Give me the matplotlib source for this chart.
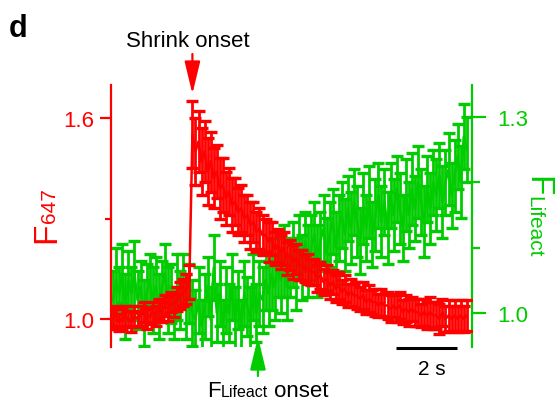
import matplotlib
matplotlib.use('Agg')
import matplotlib.pyplot as plt

plt.rcParams['font.family'] = ['Liberation Sans', 'DejaVu Sans']

RED = '#ff0000'
GREEN = '#00cc00'

# time axis: 0.1 s steps, 0 .. 11.6 s
time_s = [round(i * 0.1, 1) for i in range(117)]

# F647 (left axis)
f647 = [1.00, 1.01, 0.99, 1.00, 1.01, 1.00, 0.99, 1.01, 1.00, 1.01,
        1.02, 1.00, 1.01, 1.02, 1.01, 1.03, 1.02, 1.04, 1.03, 1.05,
        1.04, 1.06, 1.07, 1.08, 1.09, 1.11,
        1.55, 1.50, 1.53, 1.47, 1.50, 1.44, 1.47, 1.42, 1.44, 1.39,
        1.40, 1.36, 1.38, 1.34, 1.35, 1.32, 1.33, 1.30, 1.31, 1.28,
        1.29, 1.26, 1.27, 1.25, 1.25, 1.23, 1.24, 1.21, 1.22, 1.20,
        1.21, 1.18, 1.19, 1.17, 1.18, 1.16, 1.16, 1.15, 1.15, 1.14,
        1.14, 1.12, 1.13, 1.11, 1.12, 1.10, 1.11, 1.09, 1.10, 1.08,
        1.09, 1.07, 1.08, 1.07, 1.07, 1.06, 1.07, 1.05, 1.06, 1.05,
        1.05, 1.04, 1.05, 1.04, 1.04, 1.03, 1.04, 1.03, 1.04, 1.02,
        1.03, 1.02, 1.03, 1.02, 1.02, 1.01, 1.02, 1.01, 1.02, 1.01,
        1.01, 1.00, 1.02, 1.00, 1.01, 1.00, 1.01, 1.00, 1.01, 1.00, 1.01]
f647_err = [0.03, 0.03, 0.025, 0.03, 0.03, 0.025, 0.03, 0.03, 0.025, 0.03,
            0.03, 0.03, 0.025, 0.03, 0.03, 0.03, 0.03, 0.03, 0.035, 0.03,
            0.035, 0.035, 0.04, 0.04, 0.045, 0.05,
            0.10, 0.10, 0.09, 0.10, 0.09, 0.10, 0.09, 0.09, 0.08, 0.09,
            0.08, 0.08, 0.07, 0.08, 0.07, 0.07, 0.07, 0.07, 0.06, 0.07,
            0.06, 0.06, 0.06, 0.06, 0.05, 0.06, 0.05, 0.05, 0.05, 0.05,
            0.05, 0.05, 0.045, 0.05, 0.045, 0.045, 0.045, 0.04, 0.045, 0.04,
            0.04, 0.04, 0.04, 0.04, 0.04, 0.04, 0.035, 0.04, 0.04, 0.035,
            0.04, 0.035, 0.04, 0.035, 0.04, 0.035, 0.04, 0.035, 0.04, 0.035,
            0.04, 0.035, 0.04, 0.035, 0.04, 0.04, 0.035, 0.04, 0.04, 0.035,
            0.04, 0.04, 0.035, 0.04, 0.04, 0.035, 0.04, 0.04, 0.045, 0.04,
            0.04, 0.045, 0.04, 0.04, 0.045, 0.04, 0.045, 0.04, 0.045, 0.04, 0.045]

# F Lifeact (right axis)
flifeact = [1.02, 1.05, 1.03, 1.06, 1.01, 1.05, 1.03, 1.06, 1.02, 1.04,
            1.00, 1.03, 1.05, 1.02, 1.04, 1.01, 1.04, 1.06, 1.02, 1.03,
            1.00, 1.04, 1.02, 1.05, 1.01, 1.03,
            1.00, 0.99, 1.02, 0.98, 1.01, 1.04, 0.99, 1.07, 1.00, 1.03,
            0.98, 1.02, 1.00, 1.04, 0.99, 1.02, 0.98, 1.03, 1.01, 0.99,
            1.04, 1.00, 1.03,
            1.02, 1.05, 1.03, 1.06, 1.04, 1.07, 1.05, 1.08, 1.04, 1.07,
            1.09, 1.06, 1.10, 1.07, 1.11, 1.08, 1.10, 1.12, 1.08, 1.11,
            1.13, 1.09, 1.12, 1.14, 1.10, 1.13, 1.15,
            1.12, 1.16, 1.13, 1.17, 1.14, 1.11, 1.16, 1.13, 1.17, 1.12,
            1.15, 1.18, 1.14, 1.17, 1.13, 1.18, 1.15, 1.19, 1.16, 1.13,
            1.18, 1.15, 1.19, 1.16, 1.20, 1.17, 1.14, 1.19, 1.16, 1.20,
            1.18, 1.21, 1.17, 1.20, 1.22, 1.18, 1.21, 1.24, 1.20, 1.27, 1.25]
flifeact_err = [0.045, 0.05, 0.04, 0.045, 0.05, 0.045, 0.04, 0.05, 0.045, 0.04,
                0.05, 0.045, 0.04, 0.05, 0.045, 0.05, 0.04, 0.045, 0.05, 0.045,
                0.04, 0.05, 0.045, 0.04, 0.05, 0.045,
                0.05, 0.045, 0.05, 0.04, 0.05, 0.045, 0.05, 0.05, 0.045, 0.05,
                0.04, 0.05, 0.045, 0.05, 0.05, 0.045, 0.04, 0.05, 0.045, 0.05,
                0.05, 0.045, 0.05,
                0.05, 0.045, 0.05, 0.055, 0.05, 0.045, 0.05, 0.055, 0.05, 0.045,
                0.05, 0.055, 0.05, 0.05, 0.045, 0.055, 0.05, 0.05, 0.055, 0.045,
                0.05, 0.055, 0.05, 0.05, 0.055, 0.05, 0.05,
                0.055, 0.05, 0.055, 0.05, 0.055, 0.05, 0.055, 0.05, 0.055, 0.05,
                0.055, 0.05, 0.055, 0.05, 0.055, 0.05, 0.055, 0.05, 0.055, 0.05,
                0.055, 0.05, 0.055, 0.05, 0.055, 0.05, 0.055, 0.05, 0.055, 0.05,
                0.055, 0.05, 0.055, 0.05, 0.055, 0.05, 0.055, 0.05, 0.055, 0.05, 0.05]

shrink_onset = 2.6
lifeact_onset = 4.75

W, H = 557, 402
fig = plt.figure(figsize=(W / 100, H / 100), dpi=100)
ax = fig.add_axes([111 / W, 1 - 348 / H, (472 - 111) / W, (348 - 86) / H])
ax2 = ax.twinx()
ax.set_zorder(ax2.get_zorder() + 1)
ax.patch.set_visible(False)

eb = dict(capsize=4, elinewidth=2.0, capthick=2.4, lw=1.8)
ax2.errorbar(time_s, flifeact, yerr=flifeact_err, color=GREEN, ecolor=GREEN, **eb)
ax.errorbar(time_s, f647, yerr=f647_err, color=RED, ecolor=RED, **eb)

ax.set_xlim(-0.07, 11.77)
ax.set_ylim(0.916, 1.699)
ax2.set_ylim(0.948, 1.349)

for a in (ax, ax2):
    for s in ('top', 'bottom'):
        a.spines[s].set_visible(False)
    a.set_xticks([])
ax.spines['right'].set_visible(False)
ax2.spines['left'].set_visible(False)
ax.spines['left'].set_color(RED)
ax.spines['left'].set_linewidth(1.6)
ax2.spines['right'].set_color(GREEN)
ax2.spines['right'].set_linewidth(1.6)

ax.set_yticks([1.0, 1.6])
ax.set_yticklabels(['1.0', '1.6'])
ax.set_yticks([1.3], minor=True)
ax.tick_params(axis='y', which='major', colors=RED, labelsize=16, length=8, width=1.6, pad=4)
ax.tick_params(axis='y', which='minor', colors=RED, length=4, width=1.6)

ax2.set_yticks([1.0, 1.3])
ax2.set_yticklabels(['1.0', '1.3'])
ax2.set_yticks([1.1, 1.2], minor=True)
ax2.tick_params(axis='y', which='major', colors=GREEN, labelsize=16, length=10, width=1.6, pad=8)
ax2.tick_params(axis='y', which='minor', colors=GREEN, length=6, width=1.6)

# y labels with same-baseline smaller "subscript"
def fp(x, y):
    return (x / W, 1 - y / H)

fig.text(*fp(55, 243), 'F', color=RED, fontsize=24, rotation=90,
         rotation_mode='anchor', ha='left', va='baseline')
fig.text(*fp(55, 223), '647', color=RED, fontsize=15, rotation=90,
         rotation_mode='anchor', ha='left', va='baseline')
fig.text(*fp(528, 176), 'F', color=GREEN, fontsize=24, rotation=-90,
         rotation_mode='anchor', ha='left', va='baseline')
fig.text(*fp(528, 196), 'Lifeact', color=GREEN, fontsize=15, rotation=-90,
         rotation_mode='anchor', ha='left', va='baseline')

# panel letter and annotations
fig.text(*fp(9, 37), 'd', fontsize=22, fontweight='bold', va='baseline')
fig.text(*fp(188, 47), 'Shrink onset', fontsize=16, ha='center', va='baseline')

arrow = '-|>,head_length=20,head_width=4.8'
ax.annotate('', xy=(shrink_onset, 402 - 95), xytext=(shrink_onset, 402 - 55),
            xycoords=('data', 'figure pixels'), textcoords=('data', 'figure pixels'),
            arrowprops=dict(arrowstyle=arrow, color=RED, lw=1.6, mutation_scale=1,
                            shrinkA=0, shrinkB=0), annotation_clip=False)
ax.annotate('', xy=(lifeact_onset, 402 - 338), xytext=(lifeact_onset, 402 - 377),
            xycoords=('data', 'figure pixels'), textcoords=('data', 'figure pixels'),
            arrowprops=dict(arrowstyle=arrow, color=GREEN, lw=1.6, mutation_scale=1,
                            shrinkA=0, shrinkB=0), annotation_clip=False)

# "F Lifeact onset" text with small Lifeact on same baseline
renderer = fig.canvas.get_renderer()
x0 = 207
parts = [('F', 16), ('Lifeact', 11.5), (' onset', 16)]
for txt, size in parts:
    t = fig.text(*fp(x0, 397), txt, fontsize=size, va='baseline', ha='left')
    bb = t.get_window_extent(renderer)
    x0 += bb.width

# scale bar 2 s
ax.plot([9.28, 11.28], [0.913, 0.913], color='black', lw=2.2, clip_on=False,
        solid_capstyle='butt')
fig.text(*fp(432, 375), '2 s', fontsize=15, ha='center', va='baseline')

fig.savefig('out.png', dpi=100)
